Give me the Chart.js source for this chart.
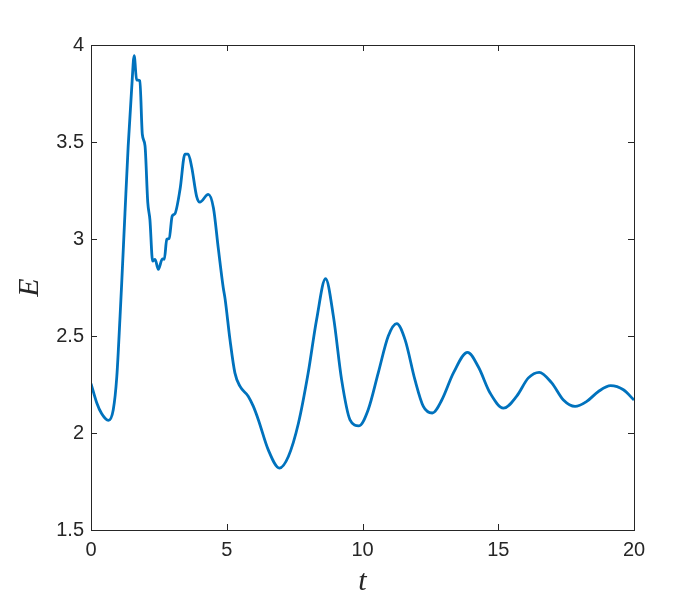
<!DOCTYPE html>
<html>
<head>
<meta charset="utf-8">
<script src="https://cdn.jsdelivr.net/npm/chart.js@4/dist/chart.umd.min.js"></script>
<style>
    html, body { margin: 0; padding: 0; background: #ffffff; }
    #wrap { width: 700px; height: 600px; }
</style>
</head>
<body>
<div id="wrap"><canvas id="energy"></canvas></div>
<script>
// t values
const tValues = [
    0.00, 0.21, 0.39, 0.64, 0.82, 0.95, 1.07, 1.13, 1.25, 1.37, 1.50,
    1.59, 1.68, 1.80, 1.89, 1.99, 2.09, 2.17, 2.27, 2.36, 2.48, 2.63, 2.70,
    2.79, 2.88, 2.99, 3.09, 3.28, 3.46, 3.58, 3.71, 3.89, 4.01, 4.32, 4.51,
    4.69, 4.87, 4.94, 5.12, 5.30, 5.49, 5.79, 5.98, 6.16, 6.53, 6.94, 7.27,
    7.64, 8.00, 8.31, 8.64, 8.93, 9.23, 9.54, 9.87, 10.21, 10.58, 10.95, 11.26,
    11.57, 11.93, 12.24, 12.57, 12.92, 13.35, 13.87, 14.27, 14.70, 15.19, 15.68, 16.11,
    16.51, 16.97, 17.40, 17.83, 18.26, 18.69, 19.14, 19.61, 20.00
];

// E values, same order
const eValues = [
    2.255, 2.156, 2.100, 2.065, 2.120, 2.290, 2.600, 2.770, 3.130, 3.480, 3.780,
    3.945, 3.820, 3.815, 3.540, 3.480, 3.190, 3.100, 2.886, 2.895, 2.843, 2.898, 2.895,
    2.998, 3.003, 3.118, 3.130, 3.256, 3.437, 3.437, 3.370, 3.220, 3.190, 3.230, 3.160,
    2.950, 2.750, 2.690, 2.480, 2.310, 2.240, 2.190, 2.137, 2.070, 1.913, 1.819, 1.879,
    2.050, 2.310, 2.585, 2.795, 2.600, 2.275, 2.068, 2.037, 2.120, 2.310, 2.500, 2.564,
    2.480, 2.275, 2.137, 2.103, 2.170, 2.310, 2.416, 2.340, 2.206, 2.128, 2.190, 2.284,
    2.313, 2.258, 2.170, 2.137, 2.163, 2.214, 2.244, 2.223, 2.170
];

const xTicks = [0, 5, 10, 15, 20];
const yTicks = [1.5, 2, 2.5, 3, 3.5, 4];

const axisColor = "#262626";
const lineColor = "#0072BD";

// box + inward ticks on all four sides, MATLAB style
const boxTicks = {
    id: "boxTicks",
    afterDraw(chart) {
        const { ctx, chartArea: a, scales } = chart;
        const len = 6;
        ctx.save();
        ctx.strokeStyle = axisColor;
        ctx.lineWidth = 1;
        ctx.strokeRect(a.left + 0.5, a.top + 0.5, a.right - a.left, a.bottom - a.top);
        ctx.beginPath();
        xTicks.forEach(v => {
            const x = Math.round(scales.x.getPixelForValue(v)) + 0.5;
            ctx.moveTo(x, a.bottom);
            ctx.lineTo(x, a.bottom - len);
            ctx.moveTo(x, a.top);
            ctx.lineTo(x, a.top + len);
        });
        yTicks.forEach(v => {
            const y = Math.round(scales.y.getPixelForValue(v)) + 0.5;
            ctx.moveTo(a.left, y);
            ctx.lineTo(a.left + len, y);
            ctx.moveTo(a.right, y);
            ctx.lineTo(a.right - len, y);
        });
        ctx.stroke();
        ctx.restore();
    }
};

const points = tValues.map((t, i) => ({ x: t, y: eValues[i] }));

new Chart(document.getElementById("energy"), {
    type: "line",
    data: {
        datasets: [
            {
                data: points,
                borderColor: lineColor,
                borderWidth: 2.8,
                pointRadius: 0,
                fill: false,
                cubicInterpolationMode: "monotone"
            }
        ]
    },
    options: {
        responsive: true,
        maintainAspectRatio: false,
        animation: false,
        layout: {
            padding: { top: 45, right: 66, left: 0, bottom: 0 }
        },
        plugins: {
            legend: { display: false },
            tooltip: { enabled: false }
        },
        scales: {
            x: {
                type: "linear",
                min: 0,
                max: 20,
                afterBuildTicks: scale => {
                    scale.ticks = xTicks.map(v => ({ value: v }));
                },
                afterFit: scale => { scale.height = 70; },
                grid: { display: false, drawTicks: false },
                border: { display: false },
                ticks: {
                    color: axisColor,
                    padding: 8,
                    maxRotation: 0,
                    callback: v => String(v),
                    font: { family: "'Liberation Sans', Arial", size: 20 }
                },
                title: {
                    display: true,
                    text: "t",
                    color: axisColor,
                    padding: { top: 6, bottom: 0 },
                    font: { family: "'Liberation Serif', serif", size: 30, style: "italic" }
                }
            },
            y: {
                min: 1.5,
                max: 4,
                afterBuildTicks: scale => {
                    scale.ticks = yTicks.map(v => ({ value: v }));
                },
                afterFit: scale => { scale.width = 91; },
                grid: { display: false, drawTicks: false },
                border: { display: false },
                ticks: {
                    color: axisColor,
                    padding: 7,
                    callback: v => String(v),
                    font: { family: "'Liberation Sans', Arial", size: 20 }
                },
                title: {
                    display: true,
                    text: "E",
                    color: axisColor,
                    padding: { top: 12, bottom: 0 },
                    font: { family: "'Liberation Serif', serif", size: 30, style: "italic" }
                }
            }
        }
    },
    plugins: [boxTicks]
});
</script>
</body>
</html>
